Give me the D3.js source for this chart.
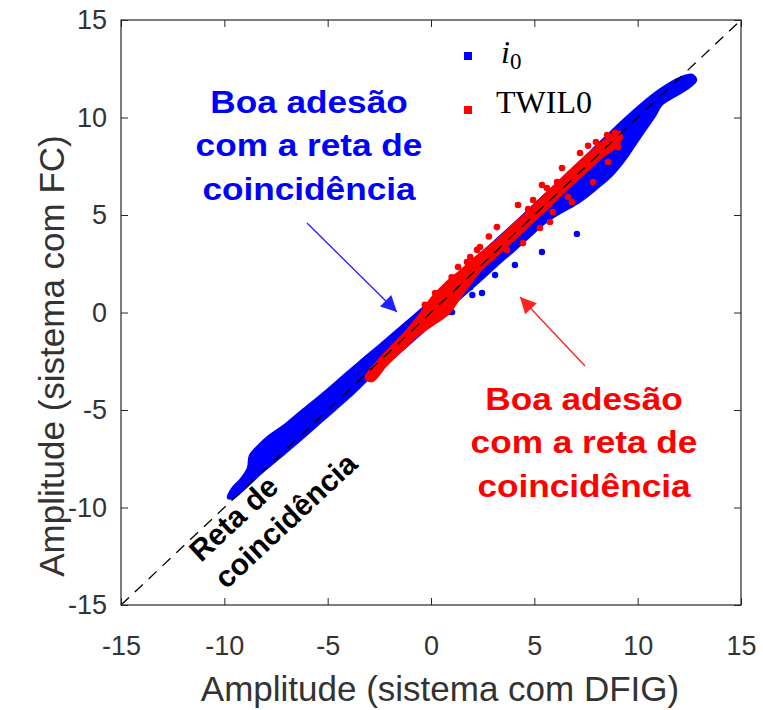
<!DOCTYPE html>
<html>
<head>
<meta charset="utf-8">
<script src="https://cdn.jsdelivr.net/npm/d3@7"></script>
<style>
  body { margin: 0; background: #fff; }
  svg { display: block; font-family: Arial, 'Liberation Sans', sans-serif; }
</style>
</head>
<body>
<div id="chart"></div>
<script>
// axis ticks
let xTicks = [-15, -10, -5, 0, 5, 10, 15];
let yTicks = [-15, -10, -5, 0, 5, 10, 15];

// outline of the dense i0 cloud (x, y)
let i0Cloud = [
  [-9.82, -9.49], [-9.63, -9.05], [-9.19, -8.54], [-8.85, -7.97], [-8.76, -7.35],
  [-8.37, -6.85], [-7.79, -6.30], [-7.06, -5.75], [-6.34, -5.12], [-5.37, -4.28],
  [-4.40, -3.40], [-3.44, -2.52], [-2.47, -1.66], [-1.50, -0.78], [-0.53, 0.10],
  [0.44, 1.08], [1.40, 2.02], [2.37, 2.98], [3.82, 4.36], [5.27, 5.80],
  [6.73, 7.24], [8.18, 8.72], [9.14, 9.70], [10.11, 10.62], [11.08, 11.43],
  [12.05, 12.03], [12.63, 12.18], [12.82, 11.92], [12.44, 11.51], [11.81, 11.10],
  [11.18, 10.69], [10.84, 10.10], [10.35, 9.35], [9.87, 8.60], [9.34, 7.78],
  [8.76, 7.05], [8.08, 6.42], [7.21, 5.70], [6.24, 5.10], [5.52, 4.60],
  [4.79, 3.92], [4.06, 3.22], [3.19, 2.42], [2.37, 1.62], [1.50, 0.82],
  [0.68, 0.01], [-0.15, -0.76], [-1.02, -1.58], [-1.98, -2.46], [-2.95, -3.33],
  [-3.92, -4.30], [-5.13, -5.43], [-6.34, -6.56], [-7.31, -7.43], [-8.18, -8.20],
  [-9.00, -9.00], [-9.58, -9.51]
];

// scattered i0 points away from the cloud
let i0Points = [
  [7.06, 4.03], [5.37, 3.10], [4.06, 2.44], [2.47, 1.00], [3.10, 1.92],
  [0.58, 0.79], [0.92, 0.03], [1.90, 1.30], [2.00, 0.90], [1.02, 0.02]
];

// outline of the dense TWIL0 cloud
let twilCloud = [
  [-3.15, -3.35], [-2.56, -2.50], [-1.89, -1.75], [-1.26, -1.05], [-0.63, -0.25],
  [0.05, 0.75], [0.68, 1.45], [1.40, 2.10], [2.27, 2.90], [3.19, 3.70],
  [4.06, 4.55], [5.03, 5.50], [6.00, 6.50], [6.97, 7.50], [7.94, 8.40],
  [8.76, 9.10], [9.14, 9.25], [9.10, 8.70], [8.18, 7.90], [7.21, 6.95],
  [6.24, 6.00], [5.27, 5.00], [4.31, 4.05], [3.34, 3.10], [2.37, 2.15],
  [1.50, 0.95], [0.82, -0.05], [0.10, -0.60], [-0.63, -1.15], [-1.40, -1.90],
  [-2.18, -2.70], [-2.85, -3.50]
];

// scattered TWIL0 points
let twilPoints = [
  [8.52, 9.10], [8.90, 9.21], [9.14, 9.00], [9.05, 8.48], [7.98, 8.74],
  [7.21, 8.18], [8.57, 7.72], [7.84, 6.69], [6.34, 7.41], [6.82, 7.05],
  [6.10, 6.69], [5.37, 6.54], [5.61, 6.38], [6.63, 5.92], [6.82, 5.67],
  [4.21, 5.51], [4.94, 5.77], [5.90, 5.15], [5.76, 4.64], [5.27, 4.33],
  [3.19, 4.38], [2.37, 3.36], [2.23, 3.21], [1.31, 2.33], [1.74, 2.59],
  [4.45, 3.56], [3.68, 3.21], [3.10, 3.10], [0.20, 1.00], [-0.30, 0.40],
  [1.00, 1.80], [2.80, 3.90], [7.60, 8.55], [4.70, 5.30], [1.90, 2.85]
];

let legendNames = ['i0', 'TWIL0'];
let blueNote = ['Boa adesão', 'com a reta de', 'coincidência'];
let redNote = ['Boa adesão', 'com a reta de', 'coincidência'];
let lineNote = ['Reta de', 'coincidência'];

let elWidth = 763, elHeight = 710;
let margin = {top: 20, right: 22, bottom: 105, left: 121};
let width = elWidth - margin.left - margin.right;
let height = elHeight - margin.top - margin.bottom;

let svg = d3.select('#chart').append('svg')
  .attr('width', elWidth)
  .attr('height', elHeight);

let g = svg.append('g').attr('transform', 'translate(' + margin.left + ',' + margin.top + ')');

let x = d3.scaleLinear().domain([-15, 15]).range([0, width]);
let y = d3.scaleLinear().domain([-15, 15]).range([height, 0]);

let blue = '#0000ff', red = '#ff0000';

let cloud = d3.line()
  .x(function(d) { return x(d[0]); })
  .y(function(d) { return y(d[1]); })
  .curve(d3.curveCatmullRomClosed);

// i0 cloud + points
g.append('path')
  .datum(i0Cloud)
  .attr('fill', blue)
  .attr('stroke', blue)
  .attr('stroke-width', 2.5)
  .attr('stroke-linejoin', 'round')
  .attr('d', cloud);

g.selectAll('.i0pt').data(i0Points).enter().append('circle')
  .attr('cx', function(d) { return x(d[0]); })
  .attr('cy', function(d) { return y(d[1]); })
  .attr('r', 3.2)
  .attr('fill', blue);

// TWIL0 cloud + points
g.append('path')
  .datum(twilCloud)
  .attr('fill', red)
  .attr('stroke', red)
  .attr('stroke-width', 3)
  .attr('stroke-linejoin', 'round')
  .attr('d', cloud);

g.selectAll('.twpt').data(twilPoints).enter().append('circle')
  .attr('cx', function(d) { return x(d[0]); })
  .attr('cy', function(d) { return y(d[1]); })
  .attr('r', 3.3)
  .attr('fill', red);

// line of coincidence
g.append('line')
  .attr('x1', x(-15)).attr('y1', y(-15))
  .attr('x2', x(15)).attr('y2', y(15))
  .attr('stroke', '#000')
  .attr('stroke-width', 1.3)
  .attr('stroke-dasharray', '11,8');

// axes, ticks inside on all four sides
let axisColor = '#262626';
let styleAxis = function(sel) {
  sel.select('.domain').remove();
  sel.selectAll('.tick line').attr('stroke', axisColor);
  sel.selectAll('.tick text')
    .attr('fill', '#333')
    .attr('font-size', 27)
    .attr('font-family', 'Arial, Liberation Sans, sans-serif');
};
let fmt = function(d) { return String(d); };

g.append('g')
  .attr('transform', 'translate(0,' + height + ')')
  .call(d3.axisBottom(x).tickValues(xTicks).tickFormat(fmt).tickSize(-7).tickPadding(31))
  .call(styleAxis);
g.append('g')
  .call(d3.axisTop(x).tickValues(xTicks).tickFormat('').tickSize(-7))
  .call(styleAxis);
g.append('g')
  .call(d3.axisLeft(y).tickValues(yTicks).tickFormat(fmt).tickSize(-7).tickPadding(14))
  .call(styleAxis);
g.append('g')
  .attr('transform', 'translate(' + width + ',0)')
  .call(d3.axisRight(y).tickValues(yTicks).tickFormat('').tickSize(-7))
  .call(styleAxis);

g.append('rect')
  .attr('width', width)
  .attr('height', height)
  .attr('fill', 'none')
  .attr('stroke', axisColor)
  .attr('stroke-width', 1.2);

// axis labels
svg.append('text')
  .attr('x', 440)
  .attr('y', 701)
  .attr('text-anchor', 'middle')
  .attr('font-size', 35)
  .attr('fill', '#333')
  .text('Amplitude (sistema com DFIG)');

svg.append('text')
  .attr('transform', 'translate(64,356) rotate(-90)')
  .attr('text-anchor', 'middle')
  .attr('font-size', 35)
  .attr('fill', '#333')
  .text('Amplitude (sistema com FC)');

// legend
let legend = svg.append('g');
legend.append('rect').attr('x', 464).attr('y', 52).attr('width', 8).attr('height', 8).attr('fill', blue);
legend.append('rect').attr('x', 464).attr('y', 106).attr('width', 8).attr('height', 8).attr('fill', red);
let lg0 = legend.append('text')
  .attr('x', 501).attr('y', 63)
  .attr('font-family', 'Liberation Serif, DejaVu Serif, serif')
  .attr('font-size', 32)
  .attr('fill', '#000');
lg0.append('tspan').attr('font-style', 'italic').text(legendNames[0].charAt(0));
lg0.append('tspan').attr('font-size', 23).attr('dy', 6).text(legendNames[0].slice(1));
legend.append('text')
  .attr('x', 496).attr('y', 113)
  .attr('font-family', 'Liberation Serif, DejaVu Serif, serif')
  .attr('font-size', 32)
  .attr('fill', '#000')
  .text(legendNames[1]);

// annotations
let note = function(lines, cx, y0, color) {
  let t = svg.append('text')
    .attr('text-anchor', 'middle')
    .attr('font-weight', 'bold')
    .attr('font-size', 32)
    .attr('fill', color)
    .attr('transform', 'translate(' + cx + ',' + y0 + ') scale(1.1,1)');
  lines.forEach(function(s, i) {
    t.append('tspan').attr('x', 0).attr('y', i * 43.5).text(s);
  });
};
note(blueNote, 309, 113, blue);
note(redNote, 584, 410, red);

let nt = svg.append('text')
  .attr('font-weight', 'bold')
  .attr('font-size', 30)
  .attr('fill', '#000')
  .attr('transform', 'translate(201,563) rotate(-43)');
lineNote.forEach(function(s, i) {
  nt.append('tspan').attr('x', 0).attr('y', i * 37).text(s);
});

// arrows
let defs = svg.append('defs');
[['ab', '#1f1fff'], ['ar', '#ff2020']].forEach(function(a) {
  defs.append('marker')
    .attr('id', a[0])
    .attr('viewBox', '0 0 10 10')
    .attr('refX', 10).attr('refY', 5)
    .attr('markerWidth', 20).attr('markerHeight', 16)
    .attr('markerUnits', 'userSpaceOnUse')
    .attr('orient', 'auto')
    .append('path').attr('d', 'M0,0L10,5L0,10z').attr('fill', a[1]);
});
svg.append('line')
  .attr('x1', 307).attr('y1', 223).attr('x2', 397).attr('y2', 312)
  .attr('stroke', '#1f1fff').attr('stroke-width', 1.3)
  .attr('marker-end', 'url(#ab)');
svg.append('line')
  .attr('x1', 585).attr('y1', 366).attr('x2', 520).attr('y2', 297)
  .attr('stroke', '#ff2020').attr('stroke-width', 1.3)
  .attr('marker-end', 'url(#ar)');
</script>
</body>
</html>
